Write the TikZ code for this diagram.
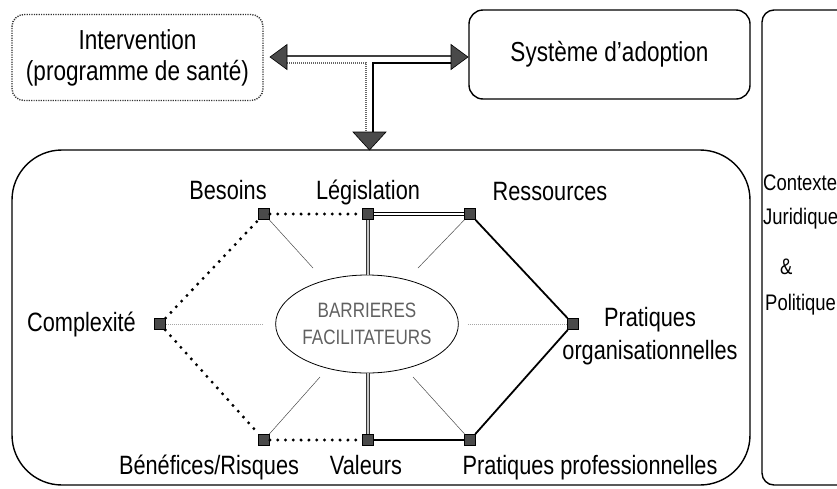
\documentclass[tikz,border=0pt]{standalone}
\usepackage{fontspec}
\setmainfont{Liberation Sans}[FakeStretch=0.82]
\usetikzlibrary{shapes.geometric}
\definecolor{sqfill}{HTML}{4A4A4A}
\definecolor{ellgray}{HTML}{606060}
\begin{document}
\begin{tikzpicture}[x=1pt,y=-1pt,
  sq/.style={draw=black, fill=sqfill, line width=0.8pt, minimum size=11pt, inner sep=0pt},
  lbl/.style={font=\fontsize{26.5}{29}\selectfont, inner sep=0pt},
  ctx/.style={font=\fontsize{22.5}{25}\selectfont, inner sep=0pt, anchor=base west},
  dotl/.style={line width=3.3pt, dash pattern=on 0pt off 7.8pt, line cap=round},
  solidl/.style={line width=1.8pt},
  dbl/.style={line width=0.9pt, double=white, double distance=1.3pt},
  gdbl/.style={draw=gray!40!black, line width=1pt, double=gray!45, double distance=1.6pt},
  spoke/.style={draw=gray!60!black, line width=0.5pt},
  spokedot/.style={draw=gray!70, line width=0.9pt, dash pattern=on 1pt off 1pt},
  rbox/.style={draw=black, line width=1.4pt, inner sep=0pt},
  head/.style={draw=black, line width=0.6pt, fill=sqfill}
]
\useasboundingbox (0,0) rectangle (837,488);
\clip (0,0) rectangle (837,488);

% top boxes
\node[rbox, draw=black!80, dash pattern=on 1.2pt off 1.2pt, rounded corners=12pt,
      minimum width=251pt, minimum height=86pt, align=center,
      font=\fontsize{27.5}{31}\selectfont] (interv) at (137.5,57.5)
      {Intervention\\(programme de santé)};
\node[rbox, rounded corners=14pt, minimum width=281pt, minimum height=89pt,
      font=\fontsize{27.5}{31}\selectfont] (sys) at (609.5,54.5) {Système d’adoption};

% main box and right panel
\node[rbox, rounded corners=50pt, minimum width=738pt, minimum height=335pt] (main) at (381,317.5) {};
\node[rbox, rounded corners=12pt, minimum width=160pt, minimum height=475pt] (ctxbox) at (842,247.5) {};

% context texts
\node[ctx] (c1) at (763,190) {Contexte};
\node[ctx] (c2) at (763,224) {Juridique};
\node[ctx] (c3) at (780,274) {\&};
\node[ctx] (c4) at (765,310) {Politique};

% T arrow
\coordinate (la) at (270,57);
\coordinate (ra) at (468,57);
\coordinate (da) at (369.5,150);
\draw[draw=black!75, line width=1.3pt] (287,56) -- (451,56);
\draw[draw=gray!80!black, line width=1.2pt, dash pattern=on 1pt off 1pt] (287,63) -- (366,63) -- (366,132);
\draw[draw=black, line width=1.6pt] (451,63) -- (373,63) -- (373,132);
\draw[head] (la) -- (287,44.5) -- (287,69.5) -- cycle;
\draw[head] (ra) -- (451,44.5) -- (451,69.5) -- cycle;
\draw[head] (da) -- (353,132) -- (386,132) -- cycle;

% ellipse
\node[ellipse, draw=black, line width=0.8pt, minimum width=167pt, minimum height=98pt,
      inner sep=0pt, text=ellgray, align=center, font=\fontsize{20.8}{27}\selectfont]
      (ell) at (367,324) {BARRIERES\\FACILITATEURS};

% spoke end points
\coordinate (sbes) at (313,268);
\coordinate (sres) at (418,268);
\coordinate (scomp) at (263,324);
\coordinate (sporg) at (468,324);
\coordinate (sben) at (320,377);
\coordinate (sppro) at (413,377);

% squares
\node[sq] (bes) at (264,214) {};
\node[sq] (leg) at (368,214) {};
\node[sq] (res) at (470,214) {};
\node[sq] (porg) at (573,324) {};
\node[sq] (ppro) at (470,440) {};
\node[sq] (val) at (368,440) {};
\node[sq] (ben) at (264,440) {};
\node[sq] (comp) at (160,324) {};

% connectors
\draw[dotl] (comp) -- (bes);
\draw[dotl] (bes) -- (leg);
\draw[dotl] (comp) -- (ben);
\draw[dotl] (ben) -- (val);
\draw[dbl] (leg) -- (res);
\draw[solidl] (res) -- (porg);
\draw[solidl] (porg) -- (ppro);
\draw[solidl] (val) -- (ppro);
\draw[gdbl] (leg) -- (leg |- ell.north);
\draw[gdbl] (val) -- (val |- ell.south);
\draw[spoke] (bes) -- (sbes);
\draw[spoke] (res) -- (sres);
\draw[spoke] (ben) -- (sben);
\draw[spoke] (ppro) -- (sppro);
\draw[spokedot] (comp) -- (scomp);
\draw[spokedot] (porg) -- (sporg);

% labels
\node[lbl, anchor=base] (tbes) at (228,199) {Besoins};
\node[lbl, anchor=base] (tleg) at (368,199) {Législation};
\node[lbl, anchor=base] (tres) at (550,200) {Ressources};
\node[lbl, anchor=base] (tcomp) at (81.5,331) {Complexité};
\node[lbl, anchor=base] (tpr1) at (650,326) {Pratiques};
\node[lbl, anchor=base] (tpr2) at (650,359) {organisationnelles};
\node[lbl, anchor=base] (tben) at (209,474) {Bénéfices/Risques};
\node[lbl, anchor=base] (tval) at (366,474) {Valeurs};
\node[lbl, anchor=base] (tppro) at (590,474) {Pratiques professionnelles};
\end{tikzpicture}
\end{document}
